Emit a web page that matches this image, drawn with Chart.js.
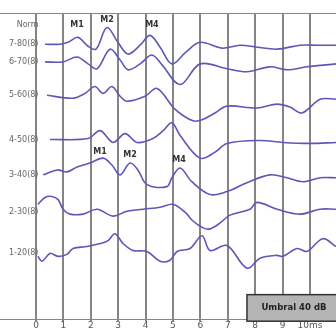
<!DOCTYPE html>
<html>
<head>
<meta charset="utf-8">
<script src="https://cdn.jsdelivr.net/npm/chart.js@4.4.1/dist/chart.umd.min.js"></script>
<style>
  html, body { margin: 0; padding: 0; background: #fff; }
  #wrap { width: 336px; height: 333px; }
</style>
</head>
<body>
<div id="wrap"><canvas id="abrChart"></canvas></div>
<script>
const traceNames = ['7-80(8)', '6-70(8)', '5-60(8)', '4-50(8)', '3-40(8)', '2-30(8)', '1-20(8)'];
const traceLevels = [42, 60, 94, 139, 175, 213, 255];
const normLabel = 'Norm';
const normLevel = 22;
const xTicks = [0, 1, 2, 3, 4, 5, 6, 7, 8, 9, 10];

const t80 = [0.33, 0.88, 1.17, 1.53, 1.90, 2.19, 2.59, 2.99, 3.36, 3.80, 4.16, 4.53, 4.96, 5.47, 5.99, 6.79, 7.45, 8.07, 8.80, 9.64, 10.26, 10.95];
const a80 = [0, 0, 2, 7, -2, -5, 17, 2, -10, -1, 9, -3, -20, -8, 2, -4, -1, -3, -5, -1, -1, -1];

const t70 = [0.33, 0.99, 1.50, 1.90, 2.23, 2.70, 3.07, 3.36, 3.80, 4.23, 4.60, 5.26, 5.99, 6.97, 7.70, 8.54, 9.16, 9.89, 10.95];
const a70 = [0, 0, 5, -2, -7, 13, 2, -8, -2, 7, -3, -23, -2, -7, -10, -5, -8, -5, -2];

const t60 = [0.40, 1.35, 1.79, 2.15, 2.45, 2.77, 3.07, 3.32, 3.98, 4.42, 5.07, 5.73, 6.06, 6.53, 6.97, 8.07, 8.80, 9.27, 9.71, 10.37, 10.95];
const a60 = [0, -3, 2, 9, 2, 9, -1, -6, -1, 7, -14, -26, -25, -18, -11, -13, -9, -12, -18, -4, -4];

const t50 = [0.51, 1.90, 2.34, 2.81, 3.25, 3.69, 4.27, 4.64, 4.96, 5.26, 5.99, 6.53, 6.97, 8.18, 9.01, 10.0, 10.95];
const a50 = [0, 1, 9, -3, 6, -3, 1, 9, 17, 4, -19, -13, -4, -1, -3, -4, -3];

const t40 = [0.26, 0.77, 1.13, 1.50, 1.97, 2.45, 2.77, 3.07, 3.43, 3.72, 4.05, 4.78, 4.96, 5.26, 5.69, 6.35, 6.97, 7.70, 8.54, 9.16, 9.74, 10.37, 10.95];
const a40 = [0, 5, 3, 8, 12, 17, 10, 0, 12, 5, -10, -12, -3, 7, -7, -20, -17, -8, 0, -3, -7, -3, -3];

const t30 = [0.07, 0.33, 0.58, 0.80, 0.99, 1.24, 1.72, 2.23, 2.81, 3.32, 3.91, 4.53, 5.00, 5.44, 5.73, 6.10, 6.35, 6.72, 7.08, 7.81, 8.07, 8.80, 9.64, 10.37, 10.95];
const a30 = [8, 15, 16, 13, 3, -2, -2, 3, -4, 1, 3, 5, 8, 0, -9, -16, -17, -11, -3, 3, 10, 3, -2, 3, 3];

const t20 = [0.07, 0.22, 0.51, 0.80, 1.13, 1.35, 1.86, 2.34, 2.63, 2.88, 3.18, 3.54, 4.05, 4.53, 4.89, 5.15, 5.62, 6.06, 6.35, 6.97, 7.70, 8.18, 8.80, 9.01, 9.53, 9.89, 10.47, 10.95];
const a20 = [-3, -8, 0, -3, -1, 5, 7, 10, 13, 20, 10, 3, 2, -8, -7, 2, 5, 18, 3, 8, -15, -5, -2, -3, 5, 2, 15, 7];

const traceTimes = [t80, t70, t60, t50, t40, t30, t20];
const traceAmps = [a80, a70, a60, a50, a40, a30, a20];

const markLabels = ['M1', 'M2', 'M4', 'M1', 'M2', 'M4'];
const markTimes = [1.50, 2.59, 4.23, 2.34, 3.43, 5.22];
const markLevels = [22, 17, 22, 152, 155, 160];

const thresholdText = 'Umbral 40 dB';

const lineColor = '#5c58b8';
const gridColor = '#858585';

function buildDatasets() {
  return traceTimes.map((times, i) => ({
    label: traceNames[i],
    data: times.map((t, j) => ({ x: t, y: traceLevels[i] - traceAmps[i][j] })),
    borderColor: lineColor,
    borderWidth: 1.6,
    pointRadius: 0,
    tension: 0.35,
    fill: false,
  }));
}

const tickValues = [normLevel, ...traceLevels];
const tickNames = [normLabel, ...traceNames];

const overlayText = {
  id: 'overlayText',
  afterDatasetsDraw(chart) {
    const { ctx, scales: { x, y } } = chart;
    ctx.save();
    ctx.fillStyle = '#333';
    ctx.font = 'bold 8px "DejaVu Sans"';
    ctx.textAlign = 'center';
    ctx.textBaseline = 'middle';
    markLabels.forEach((label, i) => {
      ctx.fillText(label, x.getPixelForValue(markTimes[i]), y.getPixelForValue(markLevels[i]));
    });

    const left = x.getPixelForValue(7.7);
    const top = y.getPixelForValue(297);
    const bottom = y.getPixelForValue(322) + 2;
    ctx.fillStyle = '#b4b4b4';
    ctx.fillRect(left, top, chart.width - left + 2, bottom - top);
    ctx.strokeStyle = '#333';
    ctx.lineWidth = 1.5;
    ctx.strokeRect(left, top, chart.width - left + 2, bottom - top);
    ctx.fillStyle = '#222';
    ctx.font = 'bold 8.5px "DejaVu Sans"';
    ctx.fillText(thresholdText, left + 47, (top + bottom) / 2);
    ctx.restore();
  },
};

new Chart(document.getElementById('abrChart').getContext('2d'), {
  type: 'line',
  data: { datasets: buildDatasets() },
  options: {
    responsive: true,
    maintainAspectRatio: false,
    animation: false,
    events: [],
    layout: { padding: { top: 11, left: 0, right: 0, bottom: 0 } },
    plugins: { legend: { display: false }, tooltip: { enabled: false } },
    scales: {
      x: {
        type: 'linear',
        min: -1.314,
        max: 10.95,
        afterBuildTicks: scale => { scale.ticks = xTicks.map(v => ({ value: v })); },
        grid: { color: gridColor, lineWidth: 2, tickLength: 2 },
        border: { display: true, color: gridColor, width: 1 },
        ticks: {
          padding: 0,
          color: '#555',
          font: { family: 'DejaVu Sans', size: 9, lineHeight: 1 },
          maxRotation: 0,
          autoSkip: false,
          callback: v => (v === 10 ? '10ms' : String(v)),
        },
      },
      x2: {
        type: 'linear',
        position: 'top',
        min: -1.314,
        max: 10.95,
        grid: { display: false, drawTicks: false },
        border: { display: true, color: gridColor, width: 1 },
        ticks: { display: false },
      },
      y: {
        type: 'linear',
        reverse: true,
        min: 11,
        max: 322,
        afterBuildTicks: scale => { scale.ticks = tickValues.map(v => ({ value: v })); },
        afterFit: scale => { scale.width = 0; },
        grid: { display: false, drawTicks: false },
        border: { display: false },
        ticks: {
          mirror: true,
          crossAlign: 'far',
          padding: 9,
          color: '#666',
          font: { family: 'DejaVu Sans', size: 8 },
          autoSkip: false,
          callback: (v, i) => tickNames[i],
        },
      },
    },
  },
  plugins: [overlayText],
});
</script>
</body>
</html>
